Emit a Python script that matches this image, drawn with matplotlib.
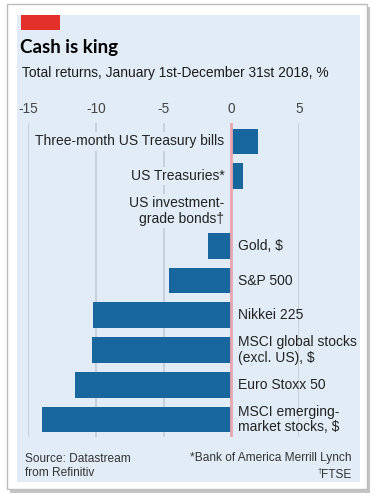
import matplotlib.pyplot as plt
from matplotlib.patches import Rectangle

# data, top to bottom
labels = ["Three-month US Treasury bills", "US Treasuries*", "US investment-\ngrade bonds\u2020",
          "Gold, $", "S&P 500", "Nikkei 225", "MSCI global stocks\n(excl. US), $",
          "Euro Stoxx 50", "MSCI emerging-\nmarket stocks, $"]
returns = [2.0, 0.9, 0.0, -1.7, -4.6, -10.2, -10.3, -11.5, -14.0]
ticks = [-15, -10, -5, 0, 5]

W, H = 377, 501
PANEL = "#e2ecf6"
BAR = "#17679e"
FONT = ["Liberation Sans", "DejaVu Sans"]


def fx(px):
    return px / W


def fy(py):
    return 1 - py / H


fig = plt.figure(figsize=(W / 100, H / 100), dpi=100)
fig.patch.set_facecolor("white")

# frame with a little shadow, then the blue panel
fig.patches.append(Rectangle((fx(10), fy(493)), fx(360), 486 / H, transform=fig.transFigure,
                             facecolor="#c4c4c4", edgecolor="none", zorder=-4))
fig.patches.append(Rectangle((fx(7), fy(489)), fx(360), 485 / H, transform=fig.transFigure,
                             facecolor="white", edgecolor="#bdbdbd", lw=1, zorder=-3))
fig.patches.append(Rectangle((fx(17), fy(482)), fx(343), 467 / H, transform=fig.transFigure,
                             facecolor=PANEL, edgecolor="none", zorder=-2))
fig.patches.append(Rectangle((fx(21), fy(30)), fx(39), 15 / H, transform=fig.transFigure,
                             facecolor="#e3302a", edgecolor="none", zorder=-1))

fig.text(fx(20), fy(48), "Cash is king", fontsize=13.5, fontweight="bold",
         family=["Lato", "DejaVu Sans"], va="center", ha="left")
fig.text(fx(22), fy(73), "Total returns, January 1st-December 31st 2018, %", fontsize=9.9,
         family=FONT, va="center", ha="left", color="#1a1a1a")

ax = fig.add_axes([fx(28), fy(437), fx(271), 314 / H])
ax.set_facecolor("none")
for s in ax.spines.values():
    s.set_visible(False)

ax.set_xlim(-15, 5)
ax.set_ylim(8.5, -0.53)
pos = list(range(len(labels)))
ax.barh(pos, returns, height=0.74, color=BAR, zorder=2)

for t in ticks:
    if t != 0:
        ax.axvline(t, color="#c5cdd5", lw=1.3, zorder=0)
ax.axvline(0, color="#e8a6b0", lw=2, zorder=3)

ax.set_xticks(ticks)
ax.set_xticklabels(["-15", "-10", "-5", "0", "5"])
ax.xaxis.tick_top()
ax.tick_params(axis="x", length=0, pad=5, labelsize=9.8, labelcolor="#444444")
for lab in ax.get_xticklabels():
    lab.set_family(FONT)
ax.set_yticks([])

for i, (name, val) in enumerate(zip(labels, returns)):
    if val >= 0 and i < 3:
        ax.text(-0.5, i, name, ha="right", va="center", fontsize=10, family=FONT,
                color="#222222", linespacing=1.15, zorder=4,
                bbox=dict(facecolor=PANEL, edgecolor="none", pad=1.5))
    else:
        ax.text(0.5, i, name, ha="left", va="center", fontsize=10, family=FONT,
                color="#222222", linespacing=1.15, zorder=4, clip_on=False)

fig.text(fx(25), fy(466), "Source: Datastream\nfrom Refinitiv", fontsize=8.6, family=FONT,
         ha="left", va="center", color="#333333", linespacing=1.2)
fig.text(fx(351), fy(458), "*Bank of America Merrill Lynch", fontsize=8.6, family=FONT,
         ha="right", va="center", color="#333333")
fig.text(fx(351), fy(475), "FTSE", fontsize=8.6, family=FONT,
         ha="right", va="center", color="#333333")
fig.text(fx(322), fy(472), "\u2020", fontsize=5.5, family=FONT,
         ha="right", va="center", color="#333333")

fig.savefig("out.png", dpi=100)
